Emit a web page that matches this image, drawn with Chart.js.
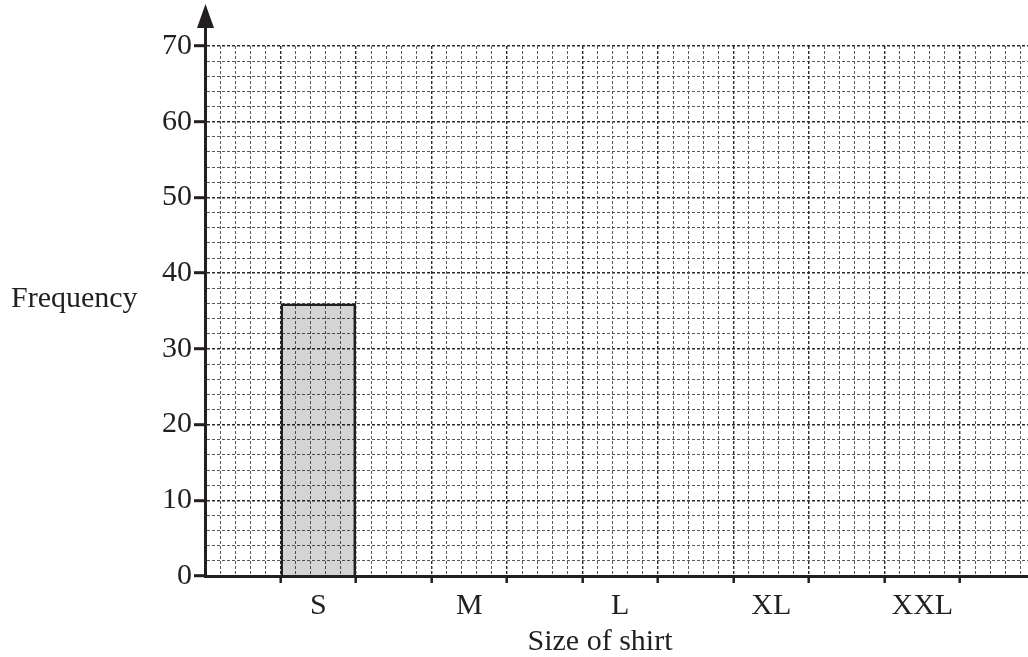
<!DOCTYPE html>
<html>
<head>
<meta charset="utf-8">
<script src="https://cdn.jsdelivr.net/npm/chart.js@4/dist/chart.umd.min.js"></script>
<style>
  html, body { margin: 0; padding: 0; background: #fff; }
  #wrap { width: 1028px; height: 657px; }
</style>
</head>
<body>
<div id="wrap"><canvas id="chart"></canvas></div>
<script>
// shirt sizes and the one frequency already drawn
const sizes = ['S', 'M', 'L', 'XL', 'XXL'];
const frequency = [36, null, null, null, null];

// y axis: 0..70, labelled every 10, grid every 2
const yMax = 70;
const yLabelStep = 10;
const yGridStep = 2;

// x axis measured in grid squares: each size bar is 5 squares wide, 5 squares gap
const xMax = 54.5;
const squaresPerBar = 5;
const barStart = [5, 15, 25, 35, 45];

const ink = '#231f20';
const font = { family: 'Liberation Serif', size: 30 };

const points = sizes.map((s, i) => ({ x: barStart[i] + squaresPerBar / 2, y: frequency[i] }));

// true when a grid context sits on a major line
const isMajor = (c, step) => !!(c.tick && c.tick.value % step === 0);

const labelPlugin = {
    id: 'labels',
    afterDraw(chart) {
        const ctx = chart.ctx;
        const area = chart.chartArea;
        const ax = Math.round(area.left) + 0.5;
        ctx.save();
        // y axis extends up to an arrow
        ctx.strokeStyle = ink;
        ctx.lineWidth = 3;
        ctx.beginPath();
        ctx.moveTo(ax, area.top);
        ctx.lineTo(ax, 24);
        ctx.stroke();
        ctx.fillStyle = ink;
        ctx.beginPath();
        ctx.moveTo(ax, 4);
        ctx.lineTo(ax - 8.5, 28);
        ctx.lineTo(ax + 8.5, 28);
        ctx.closePath();
        ctx.fill();

        ctx.font = font.size + 'px ' + font.family;
        ctx.textBaseline = 'alphabetic';
        ctx.textAlign = 'left';
        ctx.fillText('Frequency', 11, 307);
        ctx.textAlign = 'center';
        ctx.fillText('Size of shirt', 600, 650);
        ctx.restore();
    }
};

const ctx = document.getElementById('chart').getContext('2d');
new Chart(ctx, {
    type: 'bar',
    data: {
        datasets: [{
            label: 'Frequency',
            data: points,
            xAxisID: 'x',
            yAxisID: 'y',
            backgroundColor: 'rgba(0,0,0,0.17)',
            borderColor: ink,
            borderWidth: 2.5,
            borderSkipped: 'bottom',
            categoryPercentage: 0.5,
            barPercentage: 1.0
        }]
    },
    options: {
        responsive: true,
        maintainAspectRatio: false,
        animation: false,
        layout: { padding: { top: 46, left: 0, right: 0, bottom: 0 } },
        plugins: {
            legend: { display: false },
            tooltip: { enabled: false }
        },
        scales: {
            y: {
                type: 'linear',
                min: 0,
                max: yMax,
                afterFit(scale) { scale.width = 205; },
                ticks: {
                    stepSize: yGridStep,
                    autoSkip: false,
                    padding: 2,
                    color: ink,
                    font: font,
                    callback: v => (v % yLabelStep === 0 ? v : '')
                },
                grid: {
                    color: c => (isMajor(c, yLabelStep) ? '#2a2a2a' : '#5a5a5a'),
                    lineWidth: c => (isMajor(c, yLabelStep) ? 1.4 : 1),
                    tickLength: 11,
                    tickColor: ink,
                    tickWidth: c => (isMajor(c, yLabelStep) ? 3 : 0)
                },
                border: { color: ink, width: 3, dash: [3, 2] }
            },
            xg: {
                type: 'linear',
                position: 'bottom',
                weight: 0,
                offset: false,
                min: 0,
                max: xMax,
                afterBuildTicks(scale) {
                    const t = [];
                    for (let v = 0; v <= Math.floor(xMax); v++) t.push({ value: v });
                    scale.ticks = t;
                },
                afterFit(scale) { scale.height = 0; },
                ticks: { display: false },
                grid: {
                    offset: false,
                    color: c => (isMajor(c, squaresPerBar) ? '#2a2a2a' : '#5a5a5a'),
                    lineWidth: c => (isMajor(c, squaresPerBar) ? 1.4 : 1),
                    tickLength: 7,
                    tickColor: ink,
                    tickWidth: c => (isMajor(c, squaresPerBar) && c.tick.value > 0 ? 2.5 : 0)
                },
                border: { color: ink, width: 3, dash: [3, 2] }
            },
            x: {
                type: 'linear',
                position: 'bottom',
                weight: 1,
                offset: false,
                min: 0,
                max: xMax,
                afterBuildTicks(scale) {
                    scale.ticks = points.map(p => ({ value: p.x }));
                },
                afterFit(scale) { scale.height = 81; },
                ticks: {
                    autoSkip: false,
                    maxRotation: 0,
                    padding: 12,
                    color: ink,
                    font: font,
                    callback: (v, i) => sizes[i]
                },
                grid: { display: false, drawTicks: false, offset: false },
                border: { display: false }
            }
        }
    },
    plugins: [labelPlugin]
});
</script>
</body>
</html>
